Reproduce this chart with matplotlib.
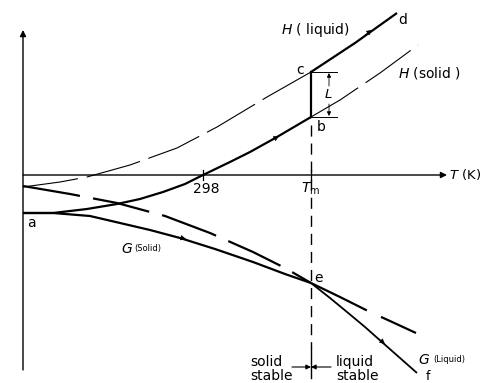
import numpy as np
import matplotlib
matplotlib.use("Agg")
import matplotlib.pyplot as plt

# schematic, in picture units (x right, y down)
t_axis_y = 175
t_left, t_right = 23, 447
tm_x = 311
t298_x = 203

# H of the solid, a -> b (solid), then its metastable extension (thin dashed)
h_sol_x = [23, 53, 87, 117, 140, 163, 185, 203, 230, 250, 277, 311]
h_sol_y = [213, 213, 209, 204, 199, 192, 184, 175, 162, 152, 137, 117]
h_sol_ext_x = [311, 340, 380, 418]
h_sol_ext_y = [117, 100, 73, 45]

# H of the liquid, c -> d (solid), supercooled extension back to T=0 (thin dashed)
h_liq_x = [311, 355, 397]
h_liq_y = [72, 43, 13]
h_liq_ext_x = [23, 60, 87, 130, 177, 217, 267, 311]
h_liq_ext_y = [187, 182, 177, 165, 148, 127, 97, 72]

# G of the solid, a -> e (solid), then beyond Tm (dashed)
g_sol_x = [23, 53, 90, 120, 150, 180, 215, 253, 285, 311]
g_sol_y = [213, 213, 216, 223, 230, 238, 249, 262, 274, 283]
g_sol_ext_x = [311, 340, 368, 390, 416]
g_sol_ext_y = [283, 297, 311, 321, 333]

# G of the liquid, dashed down to e, then solid e -> f
g_liq_ext_x = [23, 70, 117, 165, 210, 253, 285, 311]
g_liq_ext_y = [186, 194, 203, 216, 233, 252, 268, 283]
g_liq_x = [311, 330, 347, 365, 383, 400, 417]
g_liq_y = [283, 298, 312, 327, 343, 358, 373]

fig = plt.figure(figsize=(4.9, 3.83), dpi=100)
ax = fig.add_axes([0, 0, 1, 1])
ax.set_xlim(0, 490)
ax.set_ylim(383, 0)
ax.axis("off")

K = "black"
thick, thin = 1.6, 0.8

# axes
ax.annotate("", xy=(t_left, 30), xytext=(t_left, 370),
            arrowprops=dict(arrowstyle="-|>", color=K, lw=1.0,
                            mutation_scale=9, shrinkA=0, shrinkB=0))
ax.annotate("", xy=(t_right, t_axis_y), xytext=(t_left, t_axis_y),
            arrowprops=dict(arrowstyle="-|>", color=K, lw=1.0,
                            mutation_scale=9, shrinkA=0, shrinkB=0))
ax.plot([t298_x, t298_x], [t_axis_y - 5, t_axis_y + 5], color=K, lw=0.9)
ax.plot([tm_x, tm_x], [t_axis_y - 5, t_axis_y + 5], color=K, lw=0.9)

# Tm dashed line, with a short solid piece at the stability arrows
ax.plot([tm_x, tm_x], [125, 348], color=K, lw=1.0, dashes=(8, 5))
ax.plot([tm_x, tm_x], [348, 378], color=K, lw=1.0)

# H curves
ax.plot(h_sol_x, h_sol_y, color=K, lw=thick, solid_capstyle="butt")
ax.plot(h_sol_ext_x, h_sol_ext_y, color=K, lw=thin, dashes=(50, 8))
ax.plot(h_liq_x, h_liq_y, color=K, lw=thick, solid_capstyle="butt")
ax.plot(h_liq_ext_x, h_liq_ext_y, color=K, lw=thin, dashes=(50, 8))
ax.plot([tm_x, tm_x], [h_sol_y[-1], h_liq_y[0]], color=K, lw=thick)

# G curves
ax.plot(g_sol_x, g_sol_y, color=K, lw=thick, solid_capstyle="butt")
ax.plot(g_sol_ext_x, g_sol_ext_y, color=K, lw=thick, dashes=(28, 7))
ax.plot(g_liq_ext_x, g_liq_ext_y, color=K, lw=thick, dashes=(26, 6))
ax.plot(g_liq_x, g_liq_y, color=K, lw=1.3, solid_capstyle="butt")

# direction arrows on the curves
def mid_arrow(x0, y0, x1, y1):
    ax.annotate("", xy=(x1, y1), xytext=(x0, y0),
                arrowprops=dict(arrowstyle="-|>", color=K, lw=0.5,
                                mutation_scale=8, shrinkA=0, shrinkB=0))

mid_arrow(272, 140, 279, 136)
mid_arrow(365, 35, 372, 30)
mid_arrow(178, 237, 186, 239)
mid_arrow(379, 339, 385, 344)

# latent heat L
ax.plot([tm_x, 337], [72, 72], color=K, lw=0.7)
ax.plot([tm_x, 337], [117, 117], color=K, lw=0.7)
for y0, y1 in [(86, 73), (104, 116)]:
    ax.annotate("", xy=(329, y1), xytext=(329, y0),
                arrowprops=dict(arrowstyle="-|>", color=K, lw=0.6,
                                mutation_scale=6, shrinkA=0, shrinkB=0))
ax.text(328, 95, "L", fontsize=9.5, style="italic", ha="center", va="center")

# stability arrows at the bottom
for x0 in (292, 331):
    ax.annotate("", xy=(tm_x, 367), xytext=(x0, 367),
                arrowprops=dict(arrowstyle="-|>", color=K, lw=0.8,
                                mutation_scale=7, shrinkA=0, shrinkB=0))
ax.text(250, 369, "solid\nstable", fontsize=10, ha="left", va="center",
        linespacing=0.95)
ax.text(336, 369, "liquid\nstable", fontsize=10, ha="left", va="center",
        linespacing=0.95)

# labels
fs = 10
ax.text(315, 30, "$H$ ( liquid)", fontsize=fs, ha="center", va="center")
ax.text(403, 20, "d", fontsize=fs, ha="center", va="center")
ax.text(300, 70, "c", fontsize=fs, ha="center", va="center")
ax.text(430, 73, "$H$ (solid )", fontsize=fs, ha="center", va="center")
ax.text(321, 127, "b", fontsize=fs, ha="center", va="center")
ax.text(31, 223, "a", fontsize=fs, ha="center", va="center")
ax.text(t298_x + 3, 189, "298", fontsize=fs, ha="center", va="center")
ax.text(tm_x, 189, "$T_{\\mathrm{m}}$", fontsize=fs, ha="center", va="center")
ax.text(449, t_axis_y, "$T$ (K)", fontsize=9.5, ha="left", va="center")
ax.text(318, 278, "e", fontsize=fs, ha="center", va="center")
ax.text(428, 376, "f", fontsize=9, ha="center", va="center")
ax.text(424, 360, "$G$", fontsize=fs, ha="center", va="center")
ax.text(433, 360, "(Liquid)", fontsize=6, ha="left", va="center")
ax.text(127, 249, "$G$", fontsize=fs, ha="center", va="center")
ax.text(134, 249, "(Solid)", fontsize=6, ha="left", va="center")

fig.savefig("out.png", dpi=100)
